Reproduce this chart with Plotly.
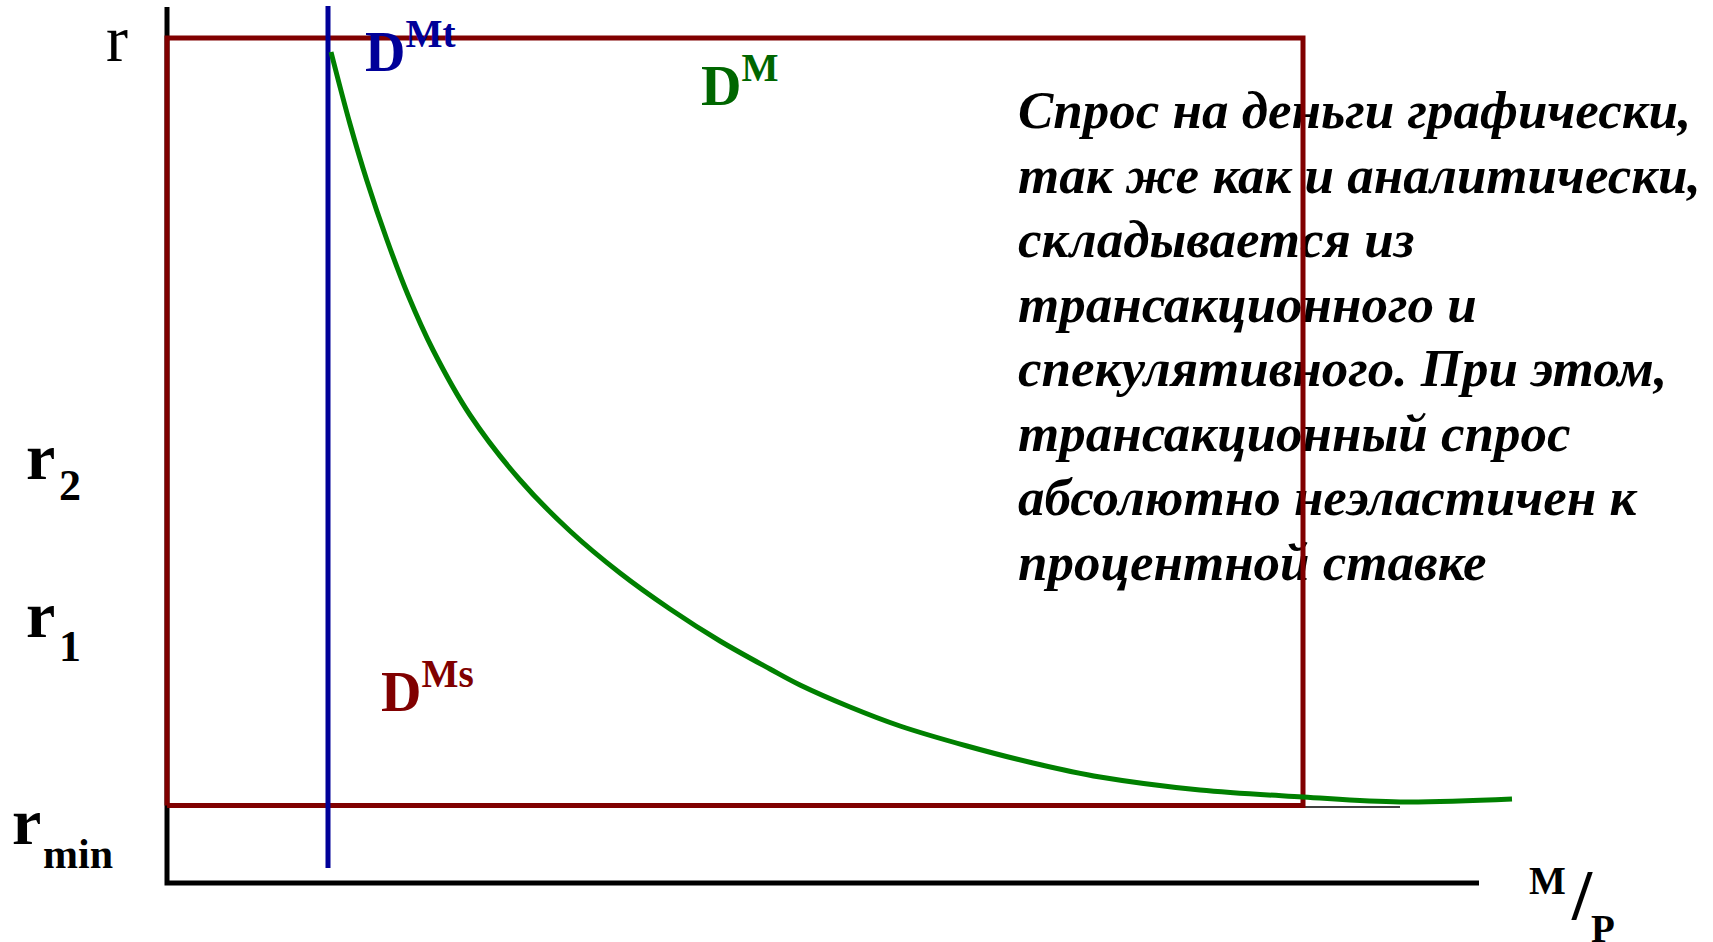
import plotly.graph_objects as go

# schematic coordinates: M/P along x, r along y, origin at the axes corner
axis_mp = [0, 0, 1312]
axis_r = [876, 0, 0]

r_top = 845      # upper edge of the rectangle (r)
r_min = 77.5     # liquidity-trap level
mp_right = 1136  # right edge of the rectangle
mp_t = 161       # transaction demand, vertical line
mp_t_r = [877, 15]

trap_mp = [1136, 1233]
trap_r = [76, 76]

# total money demand D^M
curve_mp = [164, 183, 200, 220, 241, 266, 303, 353, 403, 453, 503, 553, 603,
            633, 683, 733, 800, 866, 933, 1033, 1136, 1233, 1345]
curve_r = [831, 759, 702, 643, 588, 533, 468, 403, 352, 310, 274, 242, 214,
           198, 176, 157, 137, 120, 106, 93, 86, 81, 84]

note_lines = [
    "Спрос на деньги графически,",
    "так же как и аналитически,",
    "складывается из",
    "трансакционного и",
    "спекулятивного. При этом,",
    "трансакционный спрос",
    "абсолютно неэластичен к",
    "процентной ставке",
]

RED = "#800000"
BLUE = "#000099"
GREEN = "#008000"
SERIF = "Liberation Serif"

fig = go.Figure()

# paragraph first so the rectangle is drawn over it
fig.add_trace(go.Scatter(
    x=[851] * len(note_lines),
    y=[768 - 64.5 * i for i in range(len(note_lines))],
    mode="text", text=note_lines, textposition="middle right",
    textfont=dict(family=SERIF, size=53, color="black", weight="bold", style="italic"),
    hoverinfo="skip", showlegend=False,
))

fig.add_trace(go.Scatter(x=axis_mp, y=axis_r, mode="lines",
                         line=dict(color="black", width=5), hoverinfo="skip", showlegend=False))
fig.add_trace(go.Scatter(x=trap_mp, y=trap_r, mode="lines",
                         line=dict(color="black", width=1.5), hoverinfo="skip", showlegend=False))
fig.add_trace(go.Scatter(
    x=[0, 0, mp_right, mp_right, 0], y=[r_min, r_top, r_top, r_min, r_min], mode="lines",
    line=dict(color=RED, width=5), hoverinfo="skip", showlegend=False))
fig.add_trace(go.Scatter(x=[mp_t, mp_t], y=mp_t_r, mode="lines",
                         line=dict(color=BLUE, width=5), hoverinfo="skip", showlegend=False))
fig.add_trace(go.Scatter(x=curve_mp, y=curve_r, mode="lines", line_shape="spline",
                         line=dict(color=GREEN, width=5), hoverinfo="skip", showlegend=False))


def label(text, x, y, size, color="black", weight="bold"):
    fig.add_annotation(x=x, y=y, xref="x", yref="y", text=text, showarrow=False,
                       xanchor="left", yanchor="middle",
                       font=dict(family=SERIF, size=size, color=color, weight=weight))


label("r", -63, 845, 66, weight="normal")
# r levels: base letter and subscript placed separately
label("r", -143, 427, 66)
label("2", -110, 398, 44)
label("r", -143, 269, 66)
label("1", -110, 237, 44)
label("r", -157, 62, 66)
label("min", -126, 29, 42)

label("D<sup>Mt</sup>", 196, 836, 56, color=BLUE)
label("D<sup>M</sup>", 532, 802, 56, color="#006600")
label("D<sup>Ms</sup>", 212, 196, 56, color=RED)
label("M", 1360, 3, 39)
label("/", 1402, -12, 72)
label("P", 1422, -45, 39)

fig.update_layout(
    width=1713, height=942,
    margin=dict(l=0, r=0, t=0, b=0),
    paper_bgcolor="white", plot_bgcolor="white",
    xaxis=dict(range=[-167, 1546], visible=False, fixedrange=True),
    yaxis=dict(range=[-59, 883], visible=False, fixedrange=True),
)

fig.write_html("out.html", config={"displayModeBar": False},
               post_script="document.body.style.margin='0';")
